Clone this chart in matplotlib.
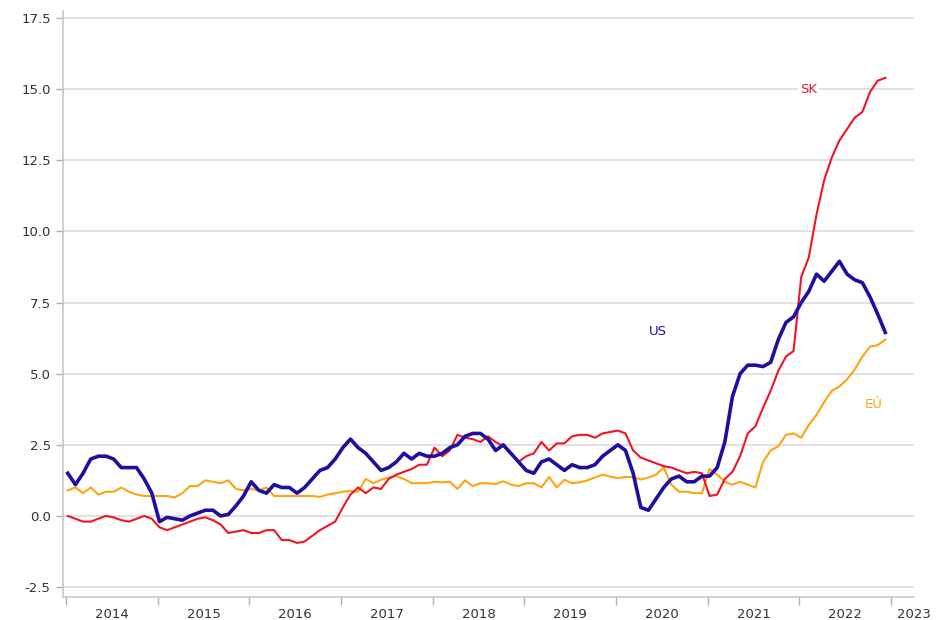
import matplotlib
matplotlib.use("Agg")
import matplotlib.pyplot as plt
import numpy as np

start_year = 2014
years = list(range(2014, 2024))

us = [1.5, 1.1, 1.5, 2.0, 2.1, 2.1, 2.0, 1.7, 1.7, 1.7, 1.3, 0.8,
      -0.2, -0.05, -0.1, -0.15, 0.0, 0.1, 0.2, 0.2, 0.0, 0.05, 0.35, 0.7,
      1.2, 0.9, 0.8, 1.1, 1.0, 1.0, 0.8, 1.0, 1.3, 1.6, 1.7, 2.0,
      2.4, 2.7, 2.4, 2.2, 1.9, 1.6, 1.7, 1.9, 2.2, 2.0, 2.2, 2.1,
      2.1, 2.2, 2.4, 2.5, 2.8, 2.9, 2.9, 2.7, 2.3, 2.5, 2.2, 1.9,
      1.6, 1.5, 1.9, 2.0, 1.8, 1.6, 1.8, 1.7, 1.7, 1.8, 2.1, 2.3,
      2.5, 2.3, 1.5, 0.3, 0.2, 0.6, 1.0, 1.3, 1.4, 1.2, 1.2, 1.4,
      1.4, 1.7, 2.6, 4.2, 5.0, 5.3, 5.3, 5.25, 5.4, 6.2, 6.8, 7.0,
      7.5, 7.9, 8.5, 8.25, 8.6, 8.95, 8.5, 8.3, 8.2, 7.7, 7.1, 6.45]

sk = [0.0, -0.1, -0.2, -0.2, -0.1, 0.0, -0.05, -0.15, -0.2, -0.1, 0.0, -0.1,
      -0.4, -0.5, -0.4, -0.3, -0.2, -0.1, -0.05, -0.15, -0.3, -0.6, -0.55, -0.5,
      -0.6, -0.6, -0.5, -0.5, -0.85, -0.85, -0.95, -0.9, -0.7, -0.5, -0.35, -0.2,
      0.3, 0.75, 1.0, 0.8, 1.0, 0.95, 1.3, 1.45, 1.55, 1.65, 1.8, 1.8,
      2.4, 2.1, 2.3, 2.85, 2.75, 2.7, 2.6, 2.8, 2.6, 2.45, 2.2, 1.9,
      2.1, 2.2, 2.6, 2.3, 2.55, 2.55, 2.8, 2.85, 2.85, 2.75, 2.9, 2.95,
      3.0, 2.9, 2.3, 2.05, 1.95, 1.85, 1.75, 1.7, 1.6, 1.5, 1.55, 1.5,
      0.7, 0.75, 1.3, 1.55, 2.1, 2.9, 3.15, 3.8, 4.4, 5.1, 5.6, 5.8,
      8.4, 9.1, 10.6, 11.8, 12.6, 13.2, 13.6, 14.0, 14.2, 14.9, 15.3, 15.4]

eu = [0.9, 1.0, 0.8, 1.0, 0.75, 0.85, 0.85, 1.0, 0.85, 0.75, 0.7, 0.7,
      0.7, 0.7, 0.65, 0.8, 1.05, 1.05, 1.25, 1.2, 1.15, 1.25, 0.95, 0.9,
      0.95, 0.9, 1.0, 0.7, 0.7, 0.7, 0.7, 0.7, 0.7, 0.67, 0.75, 0.8,
      0.85, 0.88, 0.85, 1.3, 1.15, 1.27, 1.35, 1.4, 1.3, 1.15, 1.15, 1.15,
      1.2, 1.18, 1.2, 0.95, 1.25, 1.05, 1.15, 1.15, 1.12, 1.22, 1.1, 1.05,
      1.15, 1.15, 1.0, 1.37, 1.0, 1.27, 1.15, 1.18, 1.25, 1.35, 1.45, 1.38,
      1.33, 1.37, 1.37, 1.28, 1.35, 1.45, 1.7, 1.1, 0.85, 0.85, 0.8, 0.8,
      1.65, 1.45, 1.2, 1.1, 1.2, 1.1, 1.0, 1.9, 2.3, 2.45, 2.85, 2.9,
      2.75, 3.2, 3.55, 4.0, 4.4, 4.55, 4.8, 5.15, 5.6, 5.95, 6.0, 6.2]

series_labels = ["SK", "US", "EÚ"]
y_ticks = [-2.5, 0.0, 2.5, 5.0, 7.5, 10.0, 12.5, 15.0, 17.5]

c_sk = "#f01424"
c_us = "#1e0fa0"
c_eu = "#ffa310"

n = len(us)
t = start_year + np.arange(n) / 12.0 + 0.02

fig = plt.figure(figsize=(9.36, 6.2), dpi=100)
ax = fig.add_axes([63.2 / 936, 23 / 620, (914 - 63.2) / 936, 586 / 620])

ax.plot(t, eu, color=c_eu, lw=1.5, zorder=3)
ax.plot(t, sk, color=c_sk, lw=1.5, zorder=4)
ax.plot(t, us, color=c_us, lw=2.6, zorder=5)

ax.set_xlim(2013.97, 2023.22)
ax.set_ylim(-2.85, 17.75)

ax.set_yticks(y_ticks)
ax.set_yticklabels([f"{v:.1f}" for v in y_ticks])
ax.yaxis.grid(True, color="#dcdcdc", lw=1.2)
ax.set_axisbelow(True)

ax.set_xticks(years)
ax.set_xticklabels([])
mid = [y + 0.5 for y in years[:-1]] + [2023.25]
ax.set_xticks(mid, minor=True)
ax.set_xticklabels([str(y) for y in years], minor=True)
ax.tick_params(axis="x", which="minor", length=0, pad=8, labelsize=9.5, labelcolor="#333333")
ax.tick_params(axis="x", which="major", length=6, color="#b0b0b0", width=1)
ax.tick_params(axis="y", length=5, color="#b0b0b0", width=1, labelsize=9.5, labelcolor="#333333", pad=4)

for s in ["top", "right"]:
    ax.spines[s].set_visible(False)
for s in ["left", "bottom"]:
    ax.spines[s].set_color("#c8c8c8")
    ax.spines[s].set_linewidth(1.2)

ax.text(2022.1, 15.0, series_labels[0], color=c_sk, fontsize=9.5, ha="center", va="center",
        bbox=dict(facecolor="white", edgecolor="none", pad=1.5), zorder=6)
ax.text(2020.46, 6.5, series_labels[1], color=c_us, fontsize=9.5, ha="center", va="center", zorder=6)
ax.text(2022.81, 3.9, series_labels[2], color=c_eu, fontsize=9.5, ha="center", va="center", zorder=6)

fig.savefig("out.png", dpi=100)
